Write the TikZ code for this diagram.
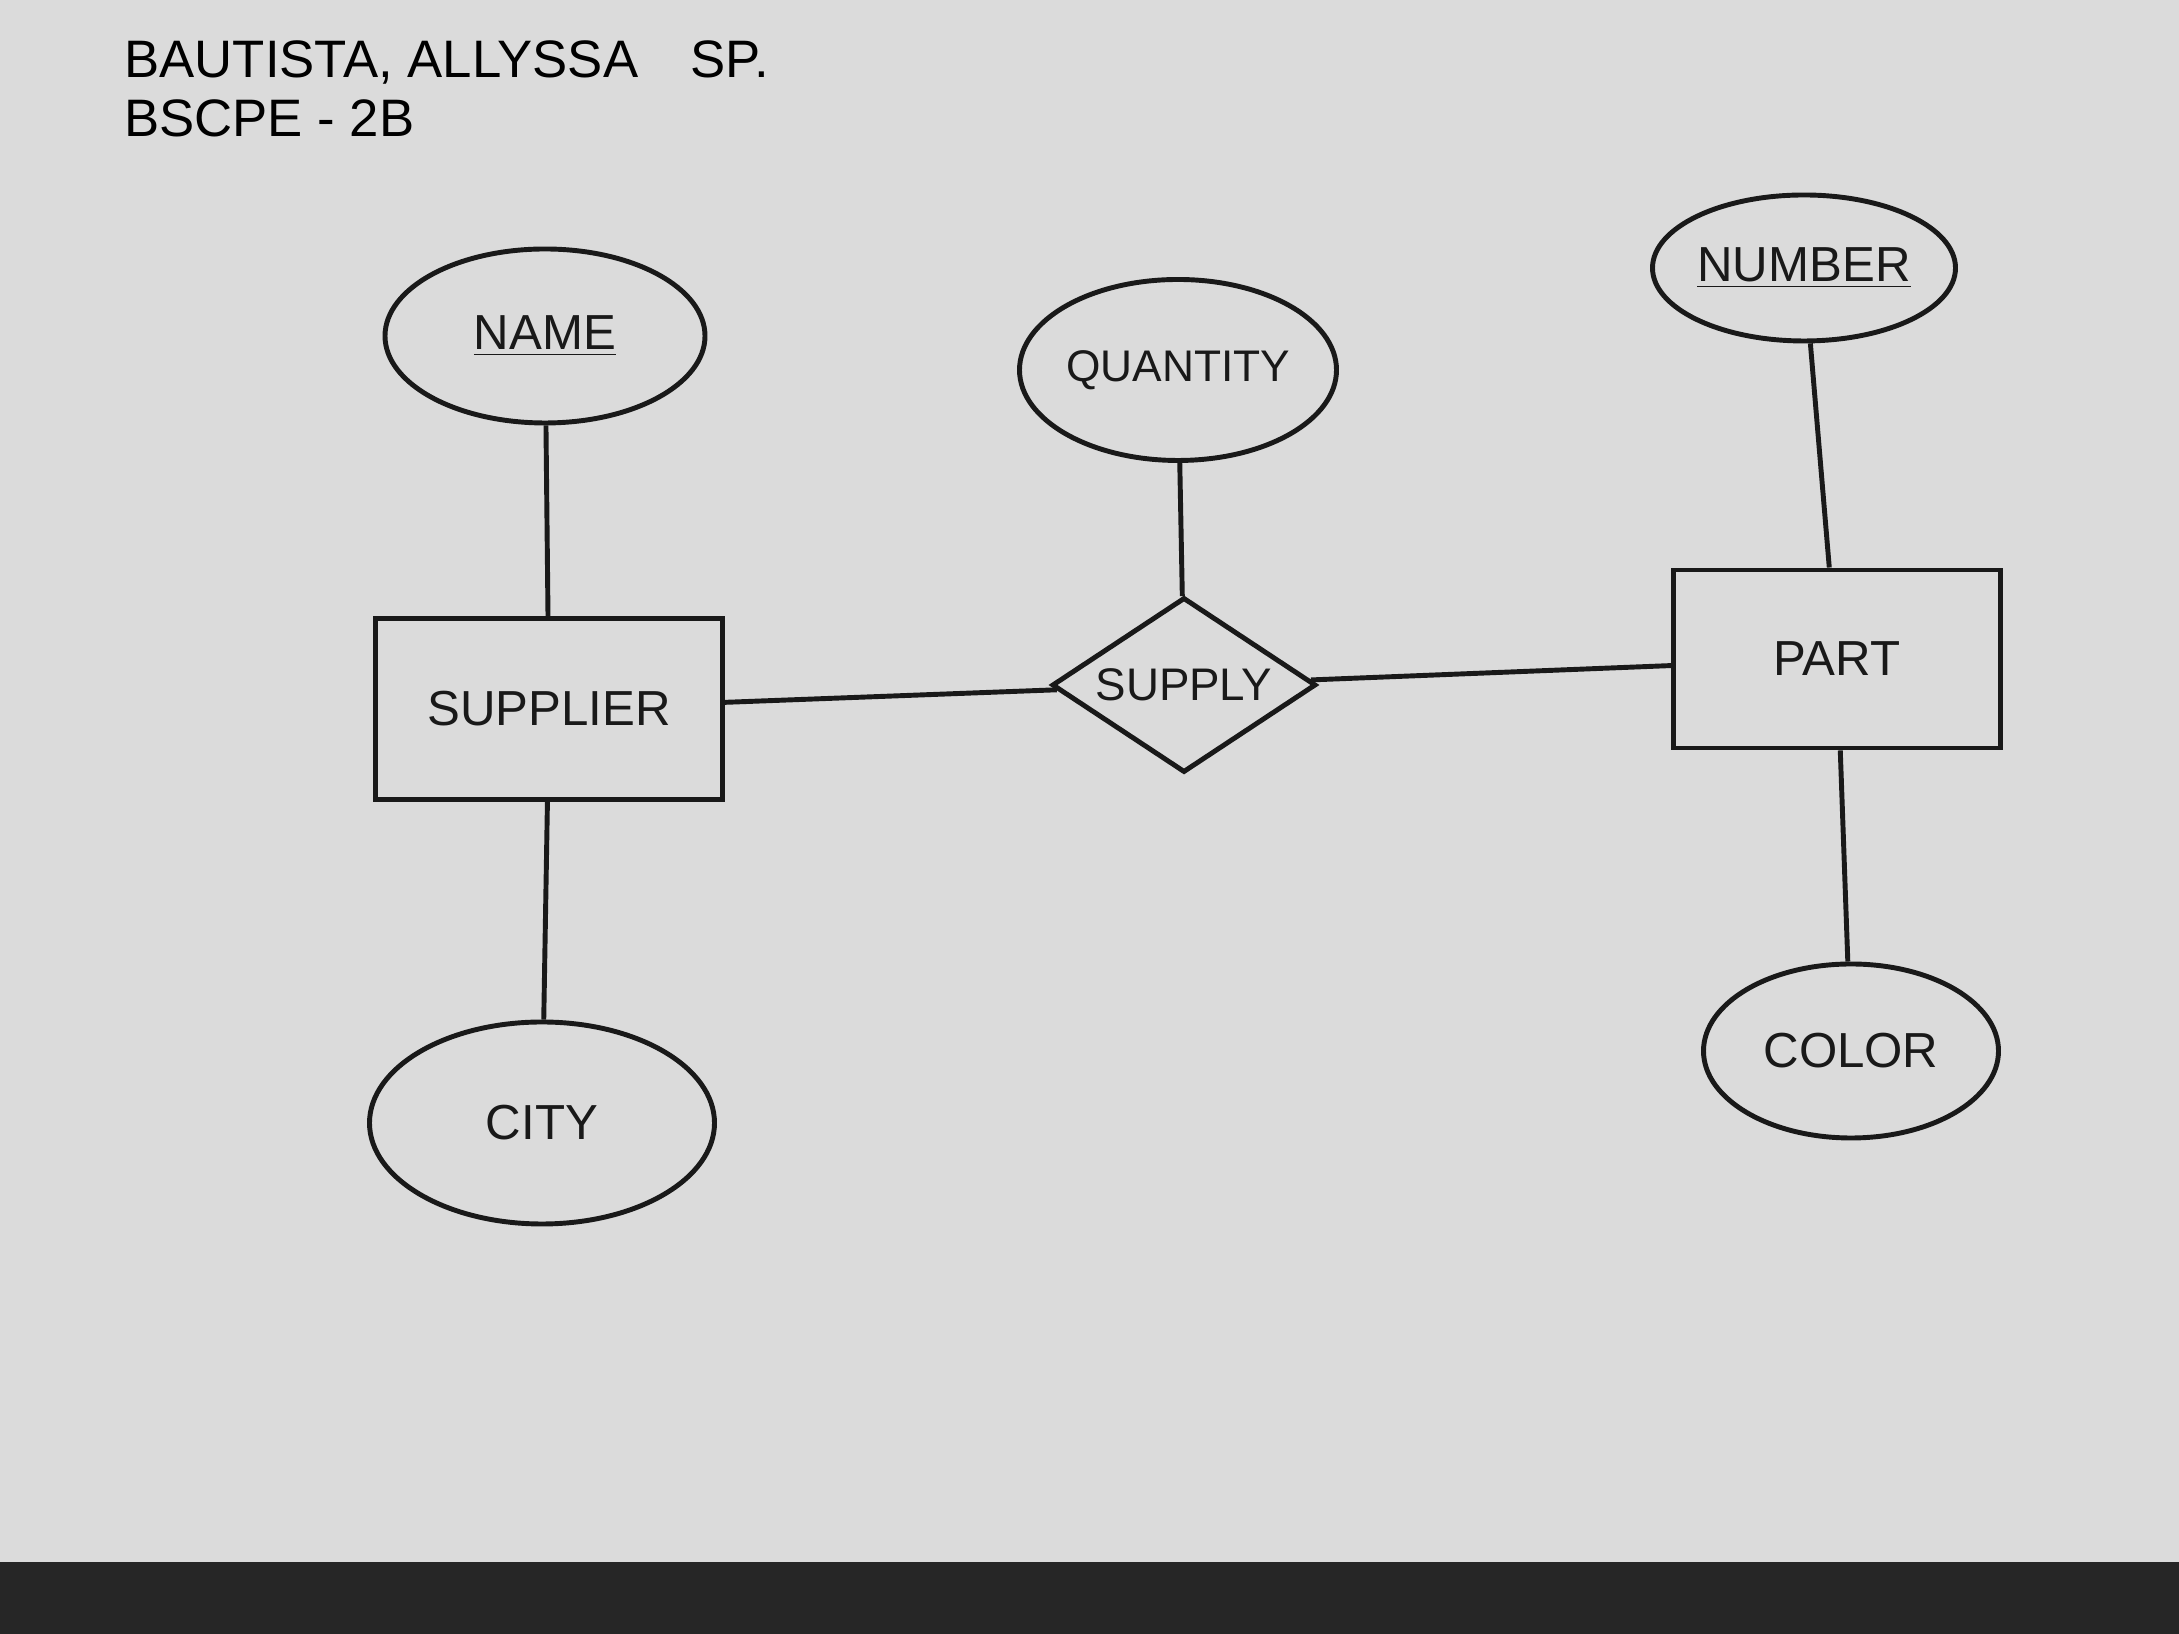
\documentclass[tikz,border=0pt]{standalone}
\usepackage{fontspec}
\setmainfont{Liberation Sans}
\usetikzlibrary{shapes.geometric}
\tikzset{
  hand/.style={line width=1.4pt, black!90},
  attr/.style={hand, draw, ellipse, inner sep=0pt, font=\fontsize{14}{16}\selectfont},
  entity/.style={hand, draw, rectangle, inner sep=0pt, font=\fontsize{14}{16}\selectfont},
  relation/.style={hand, draw, diamond, aspect=1.5, inner sep=0pt, font=\fontsize{13}{15}\selectfont},
  label/.style={font=\fontsize{15}{17}\selectfont, anchor=west}
}
\begin{document}
\begin{tikzpicture}
  \useasboundingbox (0,0) rectangle (21.79,16.34);
  \fill[black!14] (0,0) rectangle (21.79,16.34);
  \fill[black!85] (0,0) rectangle (21.79,0.72);
  \draw
    (1.12,15.72) node[label] (name1){BAUTISTA, ALLYSSA\quad SP.}
    (1.12,15.16) node[label] (name2){BSCPE - 2B}
    (5.45,12.98) node[attr, minimum width=3.2cm, minimum height=1.74cm] (nm){\underline{NAME}}
    (11.78,12.64) node[attr, minimum width=3.17cm, minimum height=1.81cm, font=\fontsize{12.6}{15}\selectfont] (qty){QUANTITY}
    (18.04,13.66) node[attr, minimum width=3.03cm, minimum height=1.46cm] (num){\underline{NUMBER}}
    (5.49,9.25) node[entity, minimum width=3.47cm, minimum height=1.81cm] (sup){SUPPLIER}
    (11.84,9.49) node[relation, minimum width=2.64cm, minimum height=1.75cm] (sly){SUPPLY}
    (18.37,9.75) node[entity, minimum width=3.27cm, minimum height=1.78cm] (part){PART}
    (5.42,5.11) node[attr, minimum width=3.45cm, minimum height=2.02cm] (city){CITY}
    (18.51,5.83) node[attr, minimum width=2.95cm, minimum height=1.74cm] (col){COLOR};
  \begin{scope}[hand]
    \draw (nm) to (sup);
    \draw (sup) to (city);
    \draw (sup) to (sly);
    \draw (qty) to (sly);
    \draw (sly) to (part);
    \draw (num) to (part);
    \draw (part) to (col);
  \end{scope}
\end{tikzpicture}
\end{document}
